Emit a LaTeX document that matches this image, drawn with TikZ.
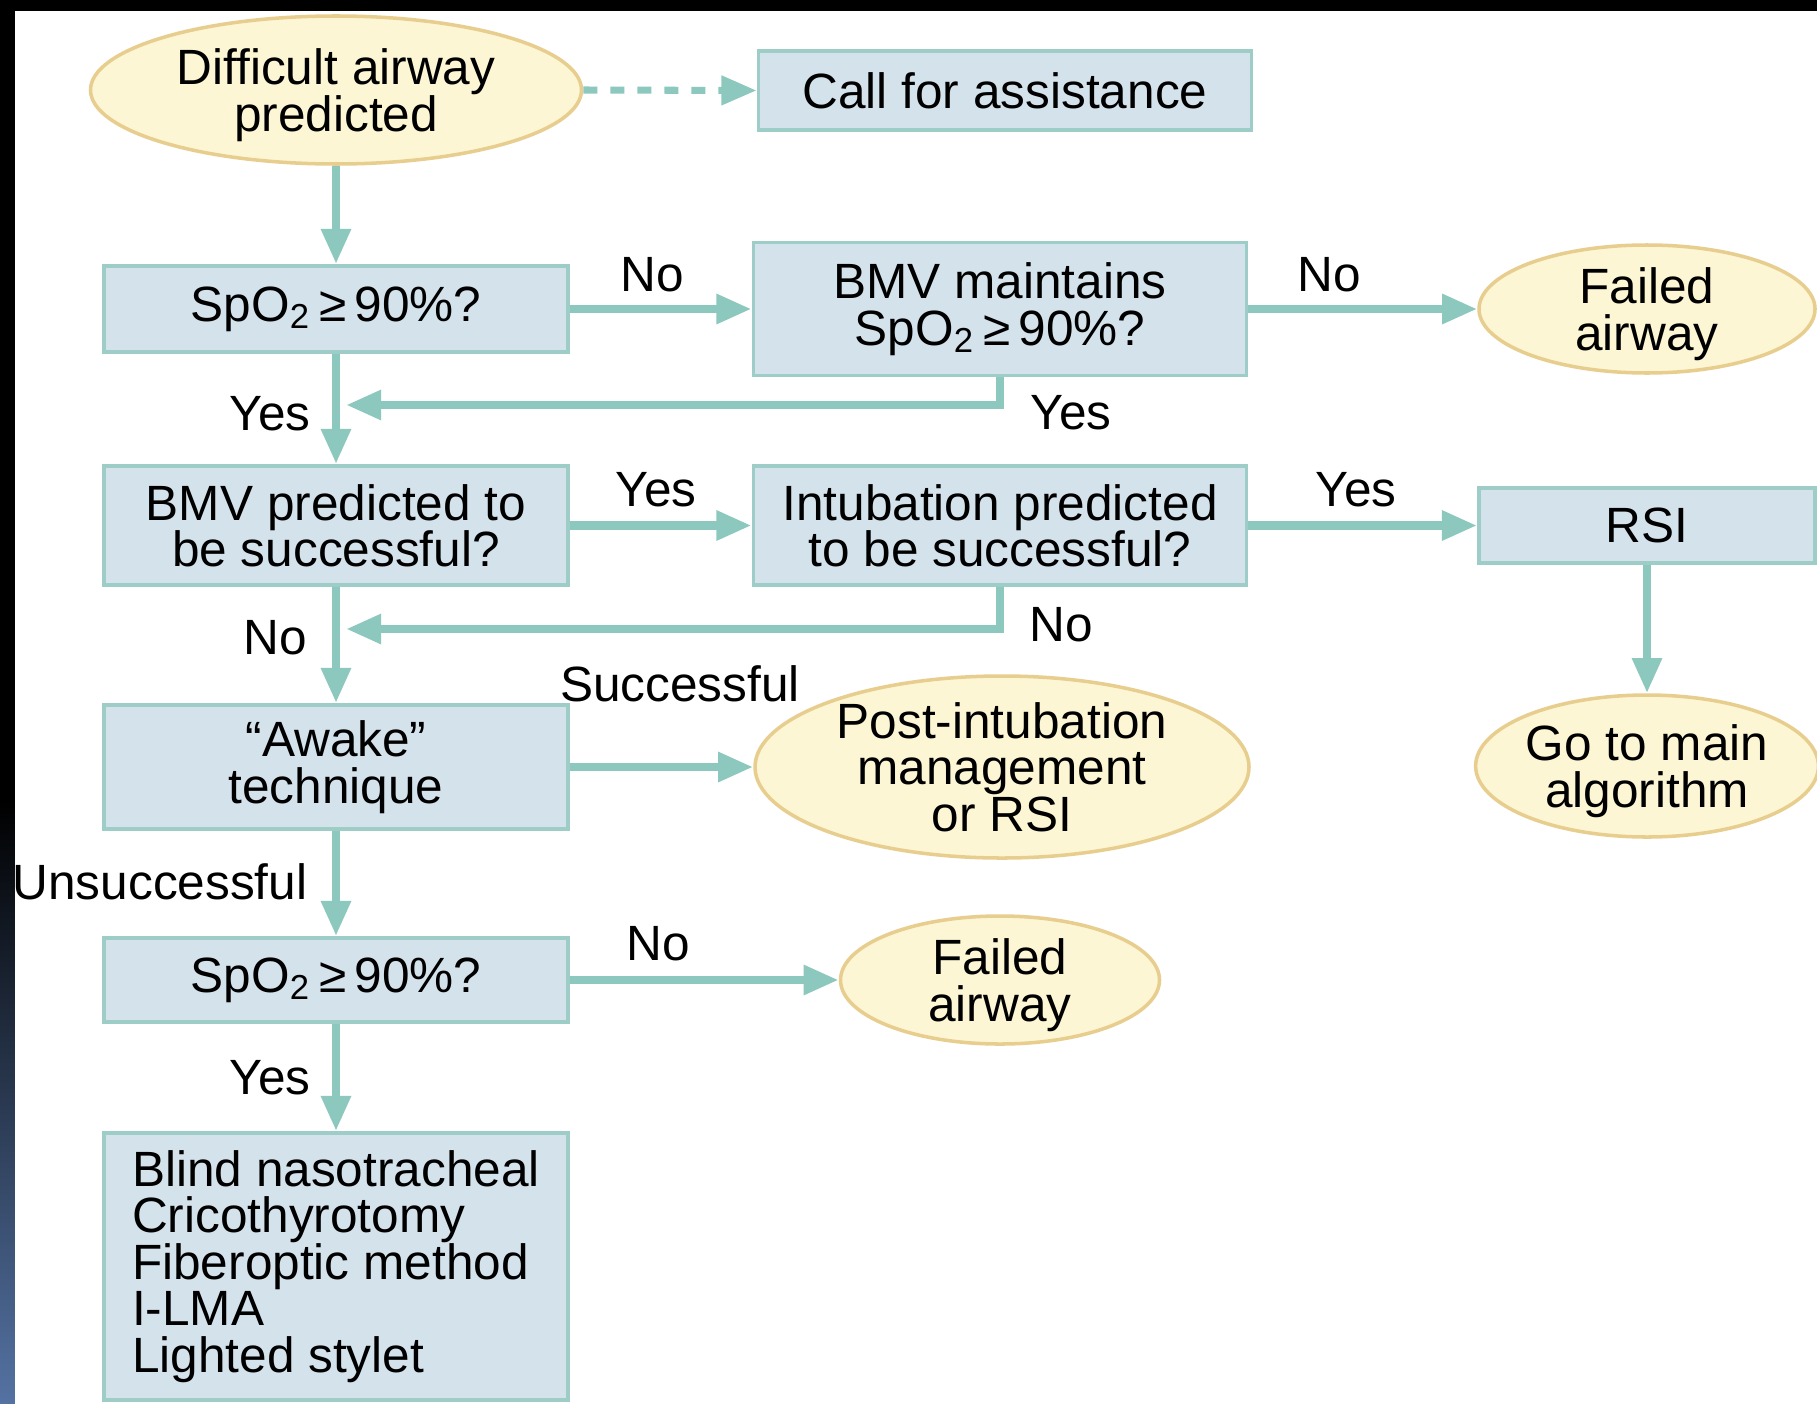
\documentclass[tikz,border=0pt]{standalone}
\usepackage{fontspec}
\setmainfont{Liberation Sans}
\usetikzlibrary{arrows.meta,shapes.geometric}
\definecolor{boxfill}{RGB}{212,226,236}
\definecolor{boxline}{RGB}{158,204,198}
\definecolor{ovalfill}{RGB}{253,246,212}
\definecolor{ovalline}{RGB}{232,206,142}
\definecolor{flowcol}{RGB}{140,200,190}
\definecolor{slideblue}{RGB}{84,114,162}
\begin{document}
\begin{tikzpicture}[
  font=\fontsize{14.1}{13.2}\selectfont,
  box/.style={draw=boxline, line width=1.1pt, fill=boxfill, align=center, inner sep=0pt},
  oval/.style={ellipse, draw=ovalline, line width=1pt, fill=ovalfill, align=center, inner sep=0pt, text depth=0pt},
  flow/.style={draw=flowcol, line width=2.4pt, -{Triangle[width=8pt,length=10pt]}},
  dflow/.style={flow, line width=2pt, dash pattern=on 0.14cm off 0.13cm}
]
\useasboundingbox (0,0) rectangle (18.17,-14.03);
\fill[white] (0,0) rectangle (18.17,-14.03);
\fill[black] (0,0) rectangle (18.17,-0.11);
\fill[black] (0,0) rectangle (0.15,-8);
\shade[top color=black, bottom color=slideblue] (0,-8) rectangle (0.15,-14.03);

% main column
\draw (3.36,-0.90) node[oval, minimum width=4.91cm, minimum height=1.48cm] (start) {Difficult airway\\predicted};
\draw (3.36,-3.09) node[box, minimum width=4.64cm, minimum height=0.86cm] (spo) {SpO\textsubscript{2}\,≥\,90\%?};
\draw (3.36,-5.255) node[box, minimum width=4.64cm, minimum height=1.19cm] (bmvpred) {BMV predicted to\\be successful?};
\draw (3.36,-7.67) node[box, minimum width=4.64cm, minimum height=1.24cm] (awake) {“Awake”\\technique};
\draw (3.36,-9.80) node[box, minimum width=4.64cm, minimum height=0.84cm] (spo2) {SpO\textsubscript{2}\,≥\,90\%?};
\draw (3.36,-12.665) node[box, minimum width=4.64cm, minimum height=2.67cm, align=left] (methods) {Blind nasotracheal\\Cricothyrotomy\\Fiberoptic method\\I-LMA\\Lighted stylet};

% middle column
\draw (10.05,-0.905) node[box, minimum width=4.93cm, minimum height=0.79cm] (call) {Call for assistance};
\draw (10.00,-3.09) node[box, minimum width=4.93cm, minimum height=1.33cm] (bmv) {BMV maintains\\SpO\textsubscript{2}\,≥\,90\%?};
\draw (10.00,-5.255) node[box, minimum width=4.93cm, minimum height=1.19cm] (intub) {Intubation predicted\\to be successful?};
\draw (10.02,-7.67) node[oval, minimum width=4.94cm, minimum height=1.82cm] (post) {Post-intubation\\management\\or RSI};
\draw (10.00,-9.80) node[oval, minimum width=3.19cm, minimum height=1.28cm] (failed2) {Failed\\airway};

% right column
\draw (16.47,-3.09) node[oval, minimum width=3.36cm, minimum height=1.28cm] (failed) {Failed\\airway};
\draw (16.47,-5.255) node[box, minimum width=3.36cm, minimum height=0.75cm] (rsi) {RSI};
\draw (16.47,-7.66) node[oval, minimum width=3.34cm, minimum height=1.42cm] (gomain) {Go to main\\algorithm};

% labels
\draw (6.52,-2.75) node (no1) {No};
\draw (13.29,-2.75) node (no2) {No};
\draw (2.70,-4.14) node (yes1) {Yes};
\draw (10.71,-4.13) node (yes2) {Yes};
\draw (6.56,-4.90) node (yes3) {Yes};
\draw (13.56,-4.90) node (yes4) {Yes};
\draw (2.75,-6.38) node (no3) {No};
\draw (10.61,-6.25) node (no4) {No};
\draw (6.80,-6.84) node (succ) {Successful};
\draw (1.60,-8.82) node (unsucc) {Unsuccessful};
\draw (6.58,-9.44) node (no5) {No};
\draw (2.70,-10.78) node (yes5) {Yes};

\coordinate (j1) at (3.46,-4.05);
\coordinate (j2) at (3.46,-6.29);

\draw[dflow] (start.east) -- (call.west);
\draw[flow] (start.south) -- (spo.north);
\draw[flow] (spo.east) -- (bmv.west);
\draw[flow] (bmv.east) -- (failed.west);
\draw[flow] (bmv.south) |- (j1);
\draw[flow] (spo.south) -- (bmvpred.north);
\draw[flow] (bmvpred.east) -- (intub.west);
\draw[flow] (intub.east) -- (rsi.west);
\draw[flow] (intub.south) |- (j2);
\draw[flow] (rsi.south) -- (gomain.north);
\draw[flow] (bmvpred.south) -- (awake.north);
\draw[flow] (awake.east) -- (post.west);
\draw[flow] (awake.south) -- (spo2.north);
\draw[flow] (spo2.east) -- (failed2.west);
\draw[flow] (spo2.south) -- (methods.north);
\end{tikzpicture}
\end{document}
